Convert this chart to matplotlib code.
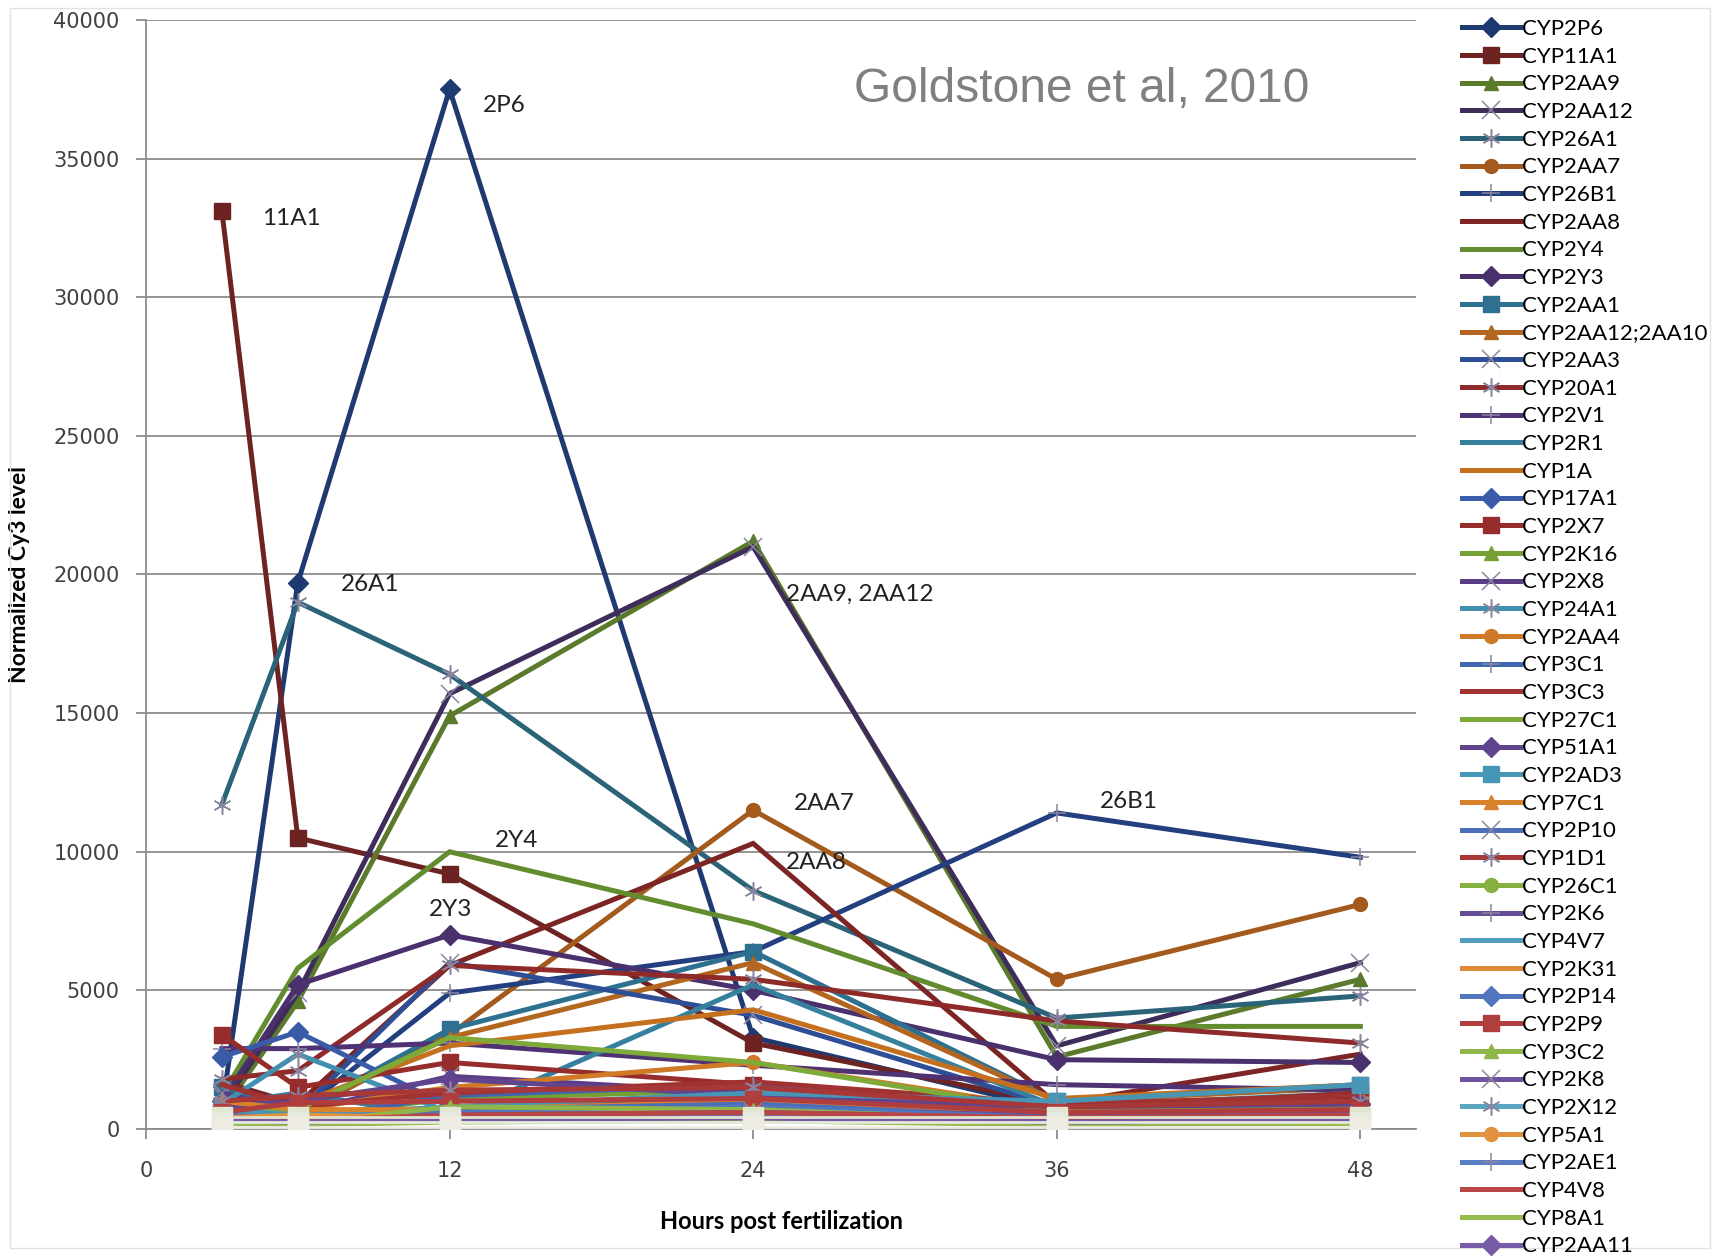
import matplotlib
matplotlib.use("Agg")
import matplotlib.pyplot as plt
from matplotlib.patches import Rectangle

# hours post fertilization
hours = [3, 6, 12, 24, 36, 48]
xticks = [0, 12, 24, 36, 48]
yticks = [0, 5000, 10000, 15000, 20000, 25000, 30000, 35000, 40000]

genes = [
    "CYP2P6", "CYP11A1", "CYP2AA9", "CYP2AA12", "CYP26A1", "CYP2AA7", "CYP26B1",
    "CYP2AA8", "CYP2Y4", "CYP2Y3", "CYP2AA1", "CYP2AA12;2AA10", "CYP2AA3",
    "CYP20A1", "CYP2V1", "CYP2R1", "CYP1A", "CYP17A1", "CYP2X7", "CYP2K16",
    "CYP2X8", "CYP24A1", "CYP2AA4", "CYP3C1", "CYP3C3", "CYP27C1", "CYP51A1",
    "CYP2AD3", "CYP7C1", "CYP2P10", "CYP1D1", "CYP26C1", "CYP2K6", "CYP4V7",
    "CYP2K31", "CYP2P14", "CYP2P9", "CYP3C2", "CYP2K8", "CYP2X12", "CYP5A1",
    "CYP2AE1", "CYP4V8", "CYP8A1", "CYP2AA11",
]

# normalized Cy3 level, one row per gene (3, 6, 12, 24, 36, 48 hpf)
levels = [
    [700, 19700, 37500, 3300, 700, 900],
    [33100, 10500, 9200, 3100, 900, 1100],
    [600, 4600, 14900, 21200, 2600, 5400],
    [800, 4900, 15700, 21000, 3000, 6000],
    [11700, 19000, 16400, 8600, 4000, 4800],
    [900, 500, 3400, 11500, 5400, 8100],
    [1500, 600, 4900, 6400, 11400, 9800],
    [1700, 900, 5900, 10300, 900, 2700],
    [1200, 5800, 10000, 7400, 3700, 3700],
    [1000, 5200, 7000, 5000, 2500, 2400],
    [1500, 600, 3600, 6400, 1000, 1600],
    [900, 700, 3300, 6000, 1000, 1500],
    [1200, 600, 6000, 4100, 800, 900],
    [1800, 2100, 5900, 5400, 3900, 3100],
    [2900, 2900, 3100, 2300, 1600, 1400],
    [900, 1300, 400, 5200, 800, 1300],
    [1000, 900, 3000, 4300, 1100, 1600],
    [2600, 3500, 800, 1000, 600, 700],
    [3400, 1500, 2400, 1600, 700, 1300],
    [700, 400, 1100, 1400, 500, 700],
    [1300, 600, 1900, 1300, 700, 800],
    [900, 2700, 600, 900, 400, 500],
    [800, 700, 1500, 2400, 700, 1000],
    [600, 300, 1200, 1600, 500, 700],
    [1600, 800, 1300, 1700, 900, 1200],
    [600, 700, 3300, 2400, 600, 800],
    [800, 1000, 1800, 1200, 800, 900],
    [700, 500, 800, 1300, 1000, 1600],
    [1000, 700, 700, 1000, 500, 600],
    [400, 200, 700, 900, 400, 500],
    [1000, 1200, 1400, 1500, 800, 1000],
    [300, 200, 500, 600, 300, 300],
    [500, 300, 600, 700, 500, 600],
    [400, 300, 500, 600, 300, 400],
    [300, 200, 400, 500, 200, 300],
    [500, 400, 600, 800, 400, 500],
    [600, 950, 1000, 1100, 600, 700],
    [300, 200, 800, 700, 300, 400],
    [400, 300, 500, 600, 400, 500],
    [200, 150, 300, 400, 200, 300],
    [400, 500, 400, 500, 300, 400],
    [300, 200, 400, 500, 250, 300],
    [400, 300, 500, 600, 400, 500],
    [200, 150, 250, 300, 150, 200],
    [300, 250, 350, 400, 250, 300],
]

# pale series at the bottom that have no legend entry
pale_levels = [
    [420, 420, 420, 420, 420, 420],
    [250, 250, 250, 250, 250, 250],
    [90, 90, 90, 90, 90, 90],
]
pale_colors = ["#E0E6CF", "#E6E9DE", "#EEEBE2"]

annotations = [
    ("2P6", 13.3, 36900), ("11A1", 4.6, 32850), ("26A1", 7.7, 19650),
    ("2AA9, 2AA12", 25.3, 19300), ("2Y4", 13.8, 10400), ("2Y3", 11.2, 7900),
    ("2AA7", 25.6, 11750), ("2AA8", 25.3, 9600), ("26B1", 37.7, 11800),
]

shades = [
    ["#1F3A70", "#243F80", "#2E4F96", "#3A5CA8", "#4166B0", "#4A6EB8", "#5276BE", "#5A7EC4"],
    ["#6E2323", "#7D2525", "#8E2A2A", "#962C2C", "#A03232", "#A83838", "#B03E3E", "#B84646"],
    ["#5B7A2C", "#628C2E", "#6C9631", "#74A034", "#7EAA3A", "#86B040", "#8EB648", "#96BC50"],
    ["#3E2C5A", "#4B306E", "#4E3273", "#5A3D86", "#61448E", "#684B96", "#70539E", "#785BA6"],
    ["#2B6478", "#2E7090", "#36809E", "#4290B0", "#4896B6", "#529EBE", "#5CA6C4", "#64AECA"],
    ["#A35A1C", "#B3661F", "#C4701F", "#D07A28", "#D8822E", "#DE8A36", "#E2923E", "#E69A46"],
]
marker_cycle = ["D", "s", "^", "x", (6, 2, 0), "o", "+", "", ""]

plt.rcParams["font.family"] = ["DejaVu Sans"]

fig = plt.figure(figsize=(17.21, 12.56), dpi=100)
ax = fig.add_axes([146 / 1721, 127 / 1256, (1416 - 146) / 1721, (1129 - 20) / 1256])

for i, (name, vals) in enumerate(zip(genes, levels)):
    pos = i if i < 14 else i + 1
    col = shades[pos % 6][pos // 6]
    mk = marker_cycle[pos % 9]
    thin = mk in ("x", "+", (6, 2, 0))
    ax.plot(hours, vals, color=col, lw=3.6, marker=mk if mk else None,
            markersize=13 if thin else 10 if mk != "s" else 11,
            markeredgewidth=1.1 if thin else 1,
            markeredgecolor=col if not thin else "#8A86A0",
            markerfacecolor=col, label=name, solid_joinstyle="miter", zorder=3)

for vals, col in zip(pale_levels, pale_colors):
    ax.plot(hours, vals, color=col, lw=2, marker="s", markersize=15,
            markeredgecolor=col, label="_nolegend_", zorder=4)

for txt, x, y in annotations:
    ax.text(x, y, txt, fontsize=17.5, color="#222222", va="center", ha="left",
            family="Lato")

ax.text(28.0, 37500, "Goldstone et al, 2010", fontsize=34.5, color="#808080",
        va="center", ha="left", family="Liberation Sans")

ax.set_xlim(0, 50.2)
ax.set_ylim(0, 40000)
ax.set_xticks(xticks)
ax.set_yticks(yticks)
ax.yaxis.grid(True, color="#8C8C8C", lw=1.3)
ax.set_axisbelow(True)
for s in ("top", "right"):
    ax.spines[s].set_visible(False)
for s in ("left", "bottom"):
    ax.spines[s].set_color("#8C8C8C")
    ax.spines[s].set_linewidth(1.3)
ax.tick_params(axis="both", colors="#8C8C8C", labelcolor="#404040",
               labelsize=15, length=7, width=1.3)
ax.tick_params(axis="y", pad=12)
ax.tick_params(axis="x", pad=16)

ax.set_xlabel("Hours post fertilization", fontsize=17, fontweight="bold",
              family="Lato", labelpad=21)
ax.set_ylabel("Normalized Cy3 level", fontsize=16.5, fontweight="bold",
              family="Lato", labelpad=17)

fig.legend(loc="upper left", bbox_to_anchor=(1462 / 1721, 1 - 19 / 1256),
           frameon=False, handlelength=2.6, handletextpad=0.1,
           labelspacing=0.345, borderpad=0, borderaxespad=0,
           prop={"family": "Lato", "size": 16})

fig.patches.append(Rectangle((10 / 1721, 8 / 1256), 1700 / 1721, 1240 / 1256,
                             transform=fig.transFigure, fill=False,
                             edgecolor="#E2E2E2", lw=1))

fig.savefig("out.png", dpi=100)
